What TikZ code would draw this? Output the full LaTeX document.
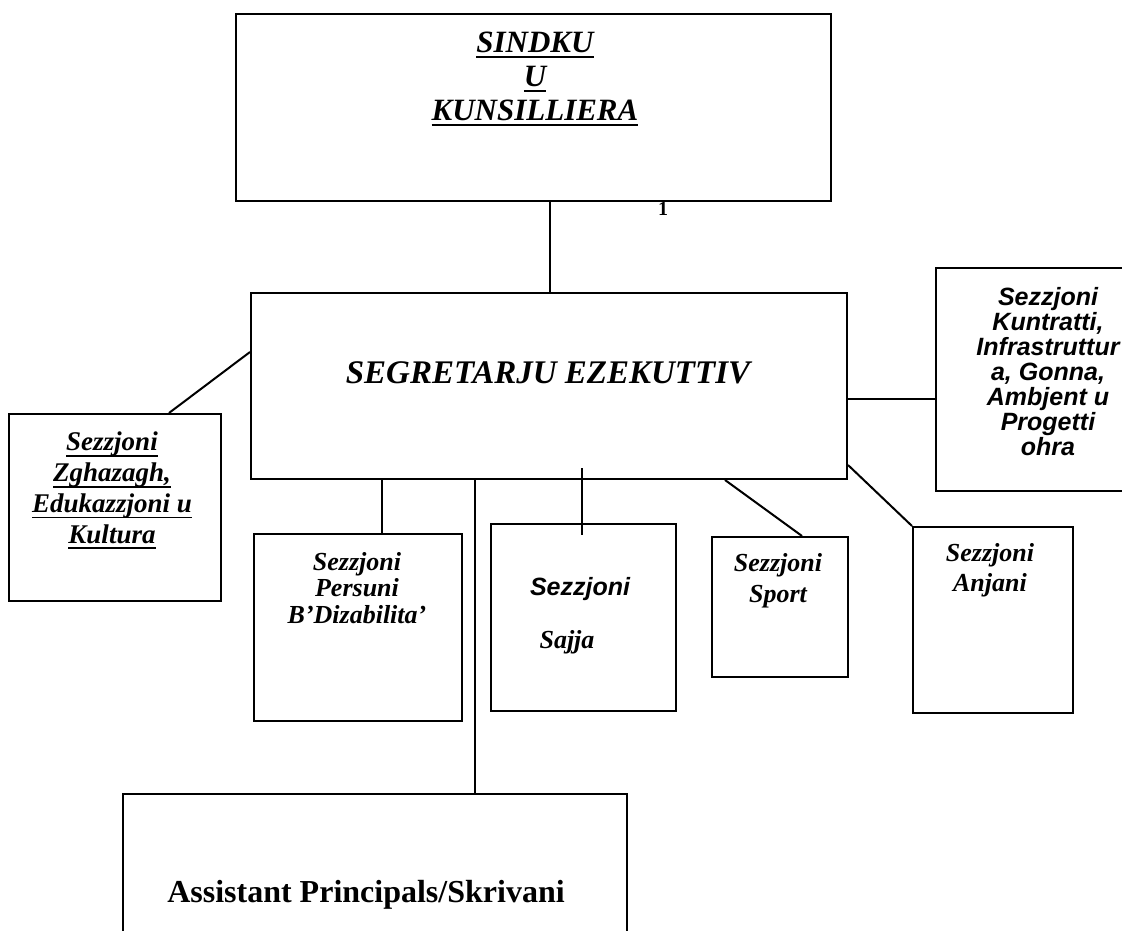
\documentclass[tikz,border=0pt]{standalone}
\usepackage{fontspec}
\setmainfont{Liberation Serif}
\newfontfamily\arialf{Liberation Sans}
\newcommand{\fsz}[2]{\fontsize{#1}{#2}\selectfont}
\newcommand{\ulw}[2][-5pt]{\setbox0\hbox{#2}\leavevmode\rlap{\rule[#1]{\wd0}{1.8pt}}\box0}
\tikzset{
  box/.style={draw, line width=2pt, inner sep=0pt, anchor=north west},
  conn/.style={line width=2pt},
  txt/.style={inner sep=0pt, anchor=north, align=center},
}
\begin{document}
\begin{tikzpicture}[x=1pt,y=-1pt]
\useasboundingbox (0,0) rectangle (1122,931);
% boxes
\node[box, minimum width=595pt, minimum height=187pt] (top) at (235,13) {};
\node[box, minimum width=596pt, minimum height=186pt] (seg) at (250,292) {};
\node[box, minimum width=212pt, minimum height=187pt] (zg) at (8,413) {};
\node[box, minimum width=230pt, minimum height=223pt] (kun) at (935,267) {};
\node[box, minimum width=208pt, minimum height=187pt] (per) at (253,533) {};
\node[box, minimum width=185pt, minimum height=187pt] (saj) at (490,523) {};
\node[box, minimum width=136pt, minimum height=140pt] (spo) at (711,536) {};
\node[box, minimum width=160pt, minimum height=186pt] (anj) at (912,526) {};
\node[box, minimum width=504pt, minimum height=200pt] (asst) at (122,793) {};
% helper coordinates
\coordinate (x1) at (550,0);
\coordinate (y1) at (0,352);
\coordinate (x2) at (169,0);
\coordinate (y2) at (0,399);
\coordinate (x3) at (382,0);
\coordinate (x4) at (475,0);
\coordinate (x5) at (582,0);
\coordinate (x6) at (725,0);
\coordinate (x7) at (802,0);
\coordinate (y3) at (0,465);
% connectors
\draw[conn] (top.south -| x1) -- (seg.north -| x1);
\draw[conn] (seg.west |- y1) -- (zg.north -| x2);
\draw[conn] (seg.east |- y2) -- (kun.west |- y2);
\draw[conn] (seg.south -| x3) -- (per.north -| x3);
\draw[conn] (seg.south -| x4) -- (asst.north -| x4);
\draw[conn, shorten <=-12pt, shorten >=-12pt] (seg.south -| x5) -- (saj.north -| x5);
\draw[conn] (seg.south -| x6) -- (spo.north -| x7);
\draw[conn] (seg.east |- y3) -- (anj.north west);
% texts
\node[txt, font=\fsz{31}{34}\bfseries\itshape] (topT) at (535,32)
  {\ulw{SINDKU}\\ \ulw{U}\\ \ulw{KUNSILLIERA}};
\node[inner sep=0pt, anchor=base, font=\fsz{33}{33}\bfseries\itshape] (segT) at (548,383)
  {SEGRETARJU EZEKUTTIV};
\node[txt, font=\fsz{27}{30.7}\bfseries\itshape] (zgT) at (112,432)
  {\ulw[-6pt]{Sezzjoni}\\ \ulw[-6pt]{Zghazagh,}\\ \ulw[-6pt]{Edukazzjoni u}\\ \ulw[-6pt]{Kultura}};
\node[txt, font=\arialf\fsz{25}{25}\bfseries\itshape] (kunT) at (1048,287)
  {Sezzjoni\\ Kuntratti,\\ Infrastruttur\\ a, Gonna,\\ Ambjent u\\ Progetti\\ ohra};
\node[txt, font=\fsz{26}{26.5}\bfseries\itshape] (perT) at (357,552)
  {Sezzjoni\\ Persuni\\ B’Dizabilita’};
\node[txt, font=\arialf\fsz{25}{25}\bfseries\itshape] (sajT1) at (580,577) {Sezzjoni};
\node[txt, font=\fsz{26}{26}\bfseries\itshape] (sajT2) at (567,630) {Sajja};
\node[txt, font=\fsz{26}{31}\bfseries\itshape] (spoT) at (778,553) {Sezzjoni\\ Sport};
\node[txt, font=\fsz{26}{30}\bfseries\itshape] (anjT) at (990,543) {Sezzjoni\\ Anjani};
\node[inner sep=0pt, anchor=base, font=\fsz{32}{32}\bfseries] (asstT) at (366,902)
  {Assistant Principals/Skrivani};
\node[inner sep=0pt, anchor=base, font=\fsz{20}{20}\bfseries] (mark) at (663,215) {1};
\end{tikzpicture}
\end{document}
